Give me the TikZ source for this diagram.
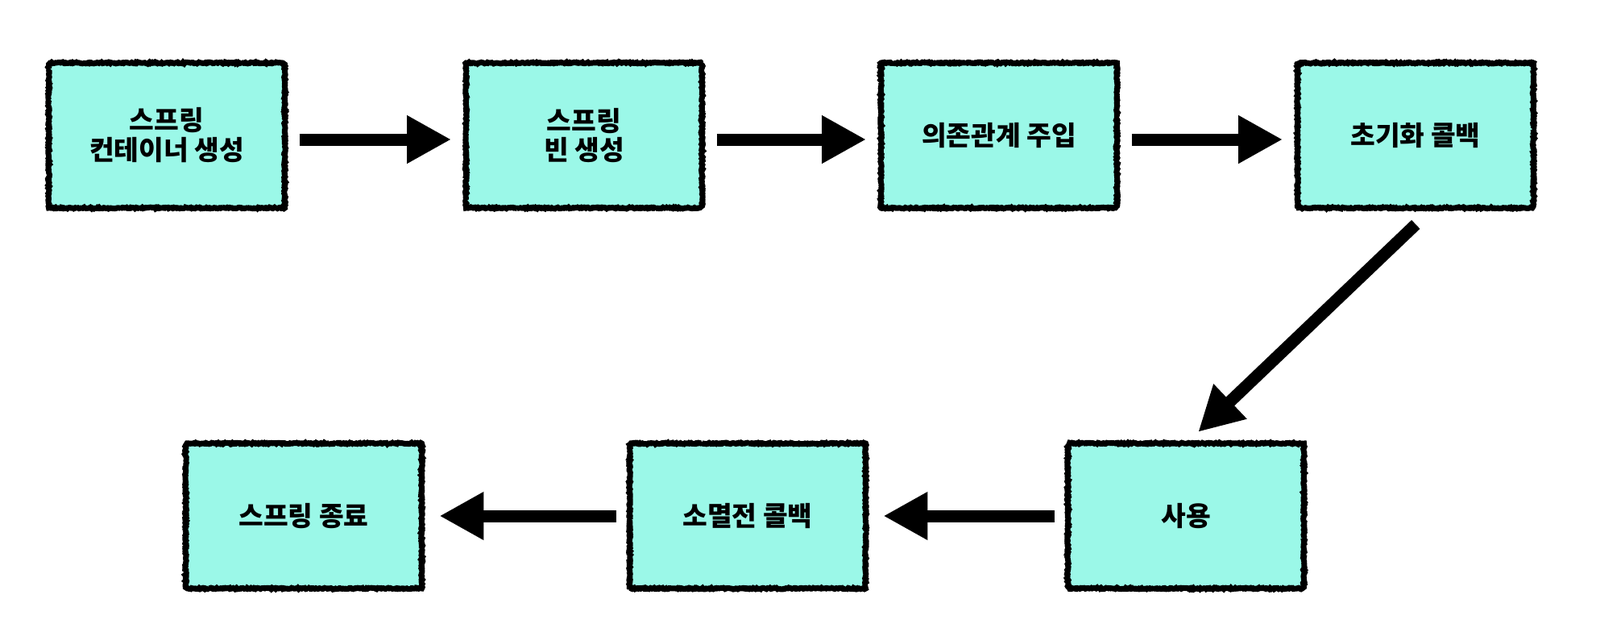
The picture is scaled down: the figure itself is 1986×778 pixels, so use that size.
\documentclass[tikz,border=0pt]{standalone}
\usepackage{fontspec}
\newfontfamily\kr{Noto Sans CJK KR}[BoldFont={Noto Sans CJK KR Black}]
\usepackage{tikz}
\usetikzlibrary{arrows.meta,decorations.pathmorphing}
\definecolor{boxfill}{RGB}{155,248,232}

\begin{document}
\begin{tikzpicture}[
    x=0.02cm, y=-0.02cm,
    block/.style={rectangle, draw=black, fill=boxfill, line width=0.14cm,
        line join=miter, miter limit=1.5,
        decorate, decoration={random steps, segment length=0.7pt, amplitude=0.45pt},
        minimum width=5.86cm, minimum height=3.6cm, align=center,
        font=\kr\bfseries\fontsize{19pt}{21pt}\selectfont},
    flow/.style={line width=0.3cm, -{Triangle[length=1.1cm, width=1.12cm]},
        shorten <=0.3cm, shorten >=0.3cm}
]
    \useasboundingbox (0,0) rectangle (1986,778);

    \node[block] (create) at (207,168) {스프링\\컨테이너 생성};
    \node[block] (bean) at (725,168) {스프링\\빈 생성};
    \node[block] (inject) at (1240,168) {의존관계 주입};
    \node[block] (init) at (1757,168) {초기화 콜백};

    \node[block] (use) at (1472,640) {사용};
    \node[block] (destroy) at (928,640) {소멸전 콜백};
    \node[block] (close) at (377,640) {스프링 종료};

    \draw[flow] ([yshift=-0.1cm]create.east) -- ([yshift=-0.1cm]bean.west);
    \draw[flow] ([yshift=-0.1cm]bean.east) -- ([yshift=-0.1cm]inject.west);
    \draw[flow] ([yshift=-0.1cm]inject.east) -- ([yshift=-0.1cm]init.west);
    \draw[flow, shorten <=0.49cm, shorten >=0.31cm] ([xshift=0.36cm]init.south) -- ([xshift=0.08cm]use.north);
    \draw[flow, shorten <=0.27cm, shorten >=0.37cm] (use) -- (destroy);
    \draw[flow, shorten <=0.27cm, shorten >=0.37cm] (destroy) -- (close);

\end{tikzpicture}
\end{document}
